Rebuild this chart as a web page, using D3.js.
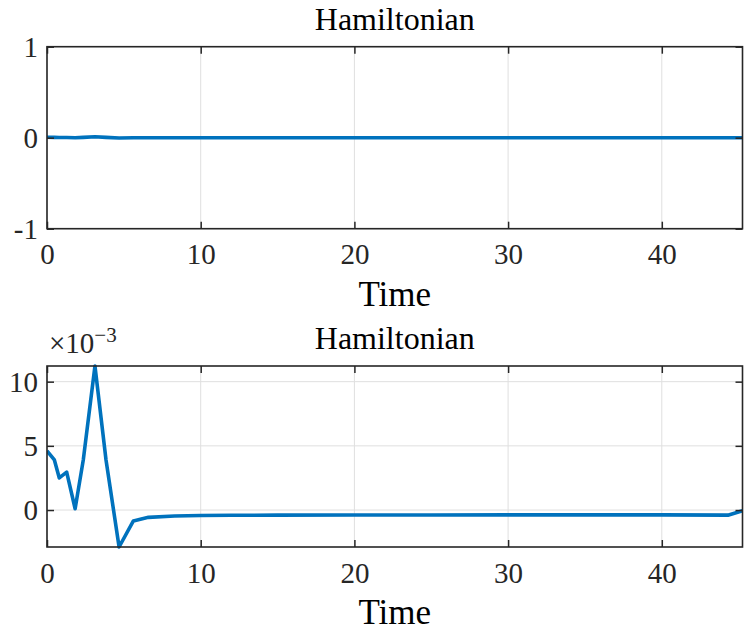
<!DOCTYPE html>
<html>
<head>
<meta charset="utf-8">
<script src="https://cdn.jsdelivr.net/npm/d3@7/dist/d3.min.js"></script>
<style>
  html, body { margin: 0; padding: 0; background: #fff; }
  svg { display: block; }
  text { font-family: "Liberation Serif", "DejaVu Serif", serif; }
</style>
</head>
<body>
<svg id="fig" width="746" height="632"></svg>
<script>
// Hamiltonian value along the trajectory (sample times and values)
const time = [0, 0.48, 0.8, 1.28, 1.83, 2.36, 3.12, 3.84, 4.69, 5.62, 6.6, 8.3, 10, 12, 15, 20, 25, 30, 35, 40, 44.3, 45.25];
const hamiltonian = [4.6e-3, 3.9e-3, 2.5e-3, 2.95e-3, 0.1e-3, 3.9e-3, 11.22e-3, 3.9e-3, -2.88e-3, -0.85e-3, -0.57e-3,
  -0.47e-3, -0.43e-3, -0.41e-3, -0.40e-3, -0.39e-3, -0.39e-3, -0.38e-3, -0.38e-3, -0.38e-3, -0.40e-3, -0.05e-3];

const xTicks = [0, 10, 20, 30, 40];
const topYTicks = [-1, 0, 1];
const topYLabels = ["-1", "0", "1"];
const botYTicks = [0, 0.005, 0.01];
const botYLabels = ["0", "5", "10"];
const titleText = "Hamiltonian";
const xLabelText = "Time";

const svg = d3.select("#fig");
const axisColor = "#262626";
const lineColor = "#0072BD";
const gridColor = "#dfdfdf";
const tickFont = 29;
const titleFont = 32;
const labelFont = 35;
const tickLen = 7;

const left = 47, right = 742.5;
const x = d3.scaleLinear().domain([0, 45.25]).range([left, right]);

function panel(top, bottom, yDomain, yTicks, yLabels, exponent) {
  const y = d3.scaleLinear().domain(yDomain).range([bottom, top]);
  const g = svg.append("g");

  // grid
  g.append("g").selectAll("line.gx").data(xTicks).join("line")
    .attr("x1", d => x(d)).attr("x2", d => x(d))
    .attr("y1", top).attr("y2", bottom)
    .attr("stroke", gridColor).attr("stroke-width", 1);
  g.append("g").selectAll("line.gy").data(yTicks).join("line")
    .attr("x1", left).attr("x2", right)
    .attr("y1", d => y(d)).attr("y2", d => y(d))
    .attr("stroke", gridColor).attr("stroke-width", 1);

  // data line
  const line = d3.line().x((d, i) => x(time[i])).y(d => y(d));
  const clipId = "clip" + Math.round(top);
  g.append("clipPath").attr("id", clipId).append("rect")
    .attr("x", left).attr("y", top - 2).attr("width", right - left).attr("height", bottom - top + 4);
  g.append("path").datum(hamiltonian)
    .attr("d", line)
    .attr("fill", "none")
    .attr("stroke", lineColor)
    .attr("stroke-width", 3.6)
    .attr("stroke-linejoin", "round")
    .attr("clip-path", `url(#${clipId})`);

  // axes with inward ticks on all four sides
  const styleAxis = sel => {
    sel.select(".domain").remove();
    sel.selectAll(".tick line").attr("stroke", axisColor).attr("stroke-width", 1.5);
    sel.selectAll(".tick text").attr("fill", axisColor).attr("font-size", tickFont);
  };
  const xb = g.append("g").attr("transform", `translate(0,${bottom})`)
    .call(d3.axisBottom(x).tickValues(xTicks).tickFormat(d3.format("d"))
      .tickSizeInner(-tickLen).tickSizeOuter(0).tickPadding(15));
  styleAxis(xb);
  const xt = g.append("g").attr("transform", `translate(0,${top})`)
    .call(d3.axisTop(x).tickValues(xTicks).tickFormat("").tickSizeInner(-tickLen).tickSizeOuter(0));
  styleAxis(xt);
  const yl = g.append("g").attr("transform", `translate(${left},0)`)
    .call(d3.axisLeft(y).tickValues(yTicks).tickFormat((d, i) => yLabels[i])
      .tickSizeInner(-tickLen).tickSizeOuter(0).tickPadding(9));
  styleAxis(yl);
  yl.selectAll(".tick text").attr("dy", "0.34em");
  const yr = g.append("g").attr("transform", `translate(${right},0)`)
    .call(d3.axisRight(y).tickValues(yTicks).tickFormat("").tickSizeInner(-tickLen).tickSizeOuter(0));
  styleAxis(yr);

  // box
  g.append("rect").attr("x", left).attr("y", top)
    .attr("width", right - left).attr("height", bottom - top)
    .attr("fill", "none").attr("stroke", axisColor).attr("stroke-width", 1.6);

  // title and x label
  g.append("text").attr("x", (left + right) / 2).attr("y", top - 17)
    .attr("text-anchor", "middle").attr("font-size", titleFont).attr("fill", "#000")
    .text(titleText);
  g.append("text").attr("x", (left + right) / 2).attr("y", bottom + 77)
    .attr("text-anchor", "middle").attr("font-size", labelFont).attr("fill", "#000")
    .text(xLabelText);

  if (exponent) {
    const t = g.append("text").attr("x", 49).attr("y", top - 13)
      .attr("fill", axisColor).attr("font-size", tickFont);
    t.append("tspan").text("\u00d710");
    t.append("tspan").attr("dy", -11).attr("font-size", 21).text(exponent);
  }
}

panel(46.7, 228.7, [-1, 1], topYTicks, topYLabels, null);
panel(366, 547, [-2.88e-3, 11.22e-3], botYTicks, botYLabels, "\u22123");
</script>
</body>
</html>
